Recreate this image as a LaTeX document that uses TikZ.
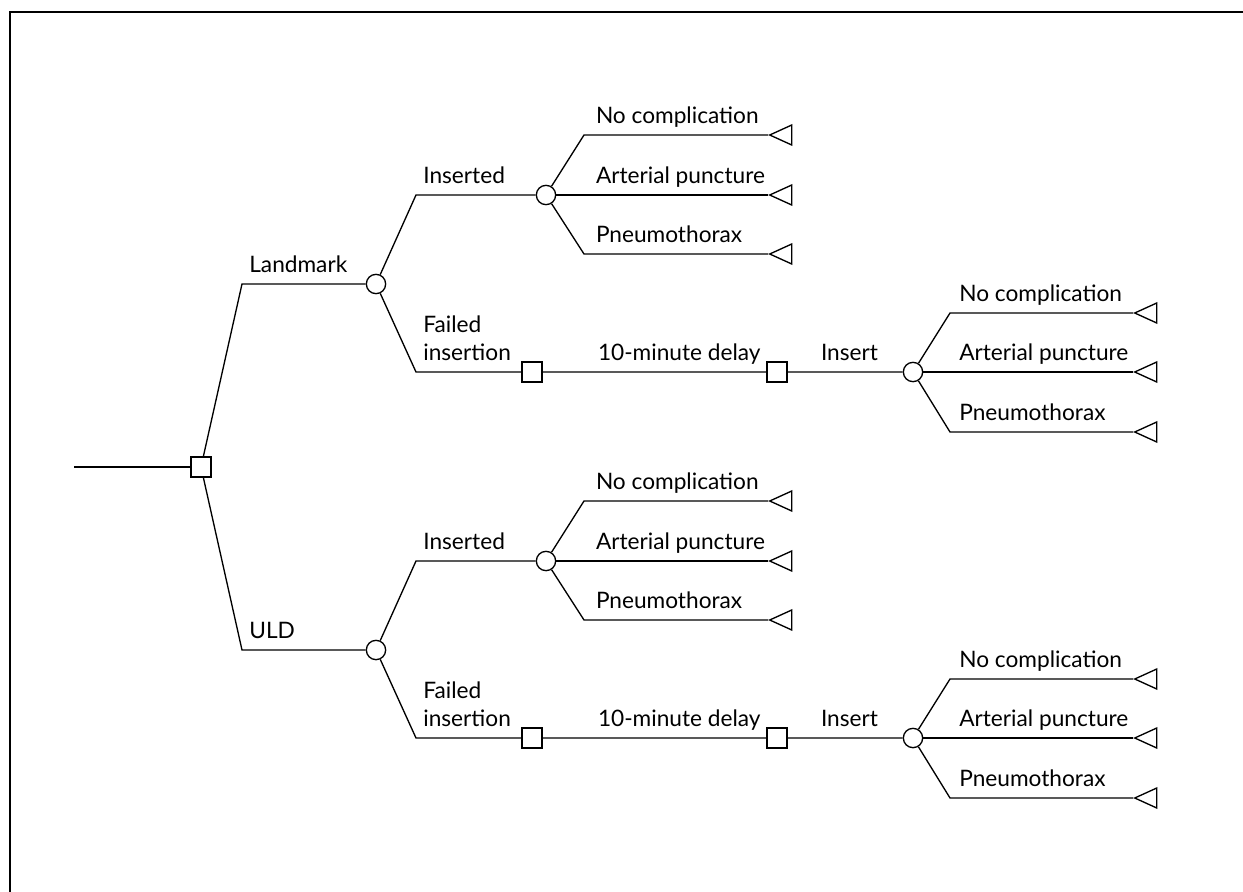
\documentclass[tikz,border=0pt]{standalone}
\usepackage{fontspec}
\setmainfont{Lato}
\usetikzlibrary{shapes.geometric}
\usetikzlibrary{positioning}
\tikzset{
    decision/.style={draw,fill=white,rectangle,minimum size=15pt,inner sep=0pt},
    chance/.style={draw,fill=white,circle,minimum size=14.5pt,inner sep=0pt},
    terminal/.style={draw,fill=white,isosceles triangle,isosceles triangle stretches,
        shape border rotate=180,minimum height=16.5pt,minimum width=15pt,inner sep=0pt,anchor=apex},
    lbl/.style={font=\fontsize{17}{20.5}\selectfont,inner sep=0pt,text depth=0pt,align=left},
}

\begin{document}
\begin{tikzpicture}[x=0.75pt,y=-0.75pt,line width=1pt]
    \useasboundingbox (0,0) rectangle (1243,892);
    \draw[line width=1.3pt] (10,892) -- (10,12) -- (1243,12);

    \coordinate (start) at (74,467);
    \node[decision] (d0) at (201,467) {};
    \draw (start) -- (d0);

    % landmark
    \coordinate (lm) at (242,284);
    \node[chance] (c1) at (376,284) {};
    \draw (d0) -- (lm) -- (c1);
    \node[lbl,above right=8.5pt and 5pt of lm] {Landmark};

    \coordinate (c1ic) at (416,195);
    \node[chance] (c1i) at (546,195) {};
    \draw (c1) -- (c1ic) -- (c1i);
    \node[lbl,above right=8.5pt and 5pt of c1ic] {Inserted};

    \coordinate (c1fc) at (416,372);
    \node[decision] (c1f) at (532,372) {};
    \node[decision] (c1d) at (777,372) {};
    \node[chance] (c1n) at (913,372) {};
    \draw (c1) -- (c1fc) -- (c1f) -- (c1d) -- (c1n);
    \node[lbl,above right=8.5pt and 5pt of c1fc] {Failed\\insertion};
    \node[lbl,above right=8.5pt and 41pt of c1f.east] {10-minute delay};
    \node[lbl,above right=8.5pt and 24.5pt of c1d.east] {Insert};

    \coordinate (o1a) at (584,135);
    \coordinate (o1b) at (584,195);
    \coordinate (o1c) at (584,254);
    \node[terminal] (t1a) at (768,135) {};
    \node[terminal] (t1b) at (768,195) {};
    \node[terminal] (t1c) at (768,254) {};
    \draw (c1i) -- (o1a) -- (t1a);
    \draw (c1i) -- (t1b);
    \draw (c1i) -- (o1c) -- (t1c);
    \node[lbl,above right=8.5pt and 8.5pt of o1a] {No complication};
    \node[lbl,above right=8.5pt and 8.5pt of o1b] {Arterial puncture};
    \node[lbl,above right=8.5pt and 8.5pt of o1c] {Pneumothorax};

    \coordinate (o1d) at (950,313);
    \coordinate (o1e) at (950,372);
    \coordinate (o1f) at (950,432);
    \node[terminal] (t1d) at (1133,313) {};
    \node[terminal] (t1e) at (1133,372) {};
    \node[terminal] (t1f) at (1133,432) {};
    \draw (c1n) -- (o1d) -- (t1d);
    \draw (c1n) -- (t1e);
    \draw (c1n) -- (o1f) -- (t1f);
    \node[lbl,above right=8.5pt and 6.5pt of o1d] {No complication};
    \node[lbl,above right=8.5pt and 6.5pt of o1e] {Arterial puncture};
    \node[lbl,above right=8.5pt and 6.5pt of o1f] {Pneumothorax};

    % ULD
    \coordinate (uld) at (242,650);
    \node[chance] (c2) at (376,650) {};
    \draw (d0) -- (uld) -- (c2);
    \node[lbl,above right=8.5pt and 5pt of uld] {ULD};

    \coordinate (c2ic) at (416,561);
    \node[chance] (c2i) at (546,561) {};
    \draw (c2) -- (c2ic) -- (c2i);
    \node[lbl,above right=8.5pt and 5pt of c2ic] {Inserted};

    \coordinate (c2fc) at (416,738);
    \node[decision] (c2f) at (532,738) {};
    \node[decision] (c2d) at (777,738) {};
    \node[chance] (c2n) at (913,738) {};
    \draw (c2) -- (c2fc) -- (c2f) -- (c2d) -- (c2n);
    \node[lbl,above right=8.5pt and 5pt of c2fc] {Failed\\insertion};
    \node[lbl,above right=8.5pt and 41pt of c2f.east] {10-minute delay};
    \node[lbl,above right=8.5pt and 24.5pt of c2d.east] {Insert};

    \coordinate (o2a) at (584,501);
    \coordinate (o2b) at (584,561);
    \coordinate (o2c) at (584,620);
    \node[terminal] (t2a) at (768,501) {};
    \node[terminal] (t2b) at (768,561) {};
    \node[terminal] (t2c) at (768,620) {};
    \draw (c2i) -- (o2a) -- (t2a);
    \draw (c2i) -- (t2b);
    \draw (c2i) -- (o2c) -- (t2c);
    \node[lbl,above right=8.5pt and 8.5pt of o2a] {No complication};
    \node[lbl,above right=8.5pt and 8.5pt of o2b] {Arterial puncture};
    \node[lbl,above right=8.5pt and 8.5pt of o2c] {Pneumothorax};

    \coordinate (o2d) at (950,679);
    \coordinate (o2e) at (950,738);
    \coordinate (o2f) at (950,798);
    \node[terminal] (t2d) at (1133,679) {};
    \node[terminal] (t2e) at (1133,738) {};
    \node[terminal] (t2f) at (1133,798) {};
    \draw (c2n) -- (o2d) -- (t2d);
    \draw (c2n) -- (t2e);
    \draw (c2n) -- (o2f) -- (t2f);
    \node[lbl,above right=8.5pt and 6.5pt of o2d] {No complication};
    \node[lbl,above right=8.5pt and 6.5pt of o2e] {Arterial puncture};
    \node[lbl,above right=8.5pt and 6.5pt of o2f] {Pneumothorax};
\end{tikzpicture}
\end{document}
